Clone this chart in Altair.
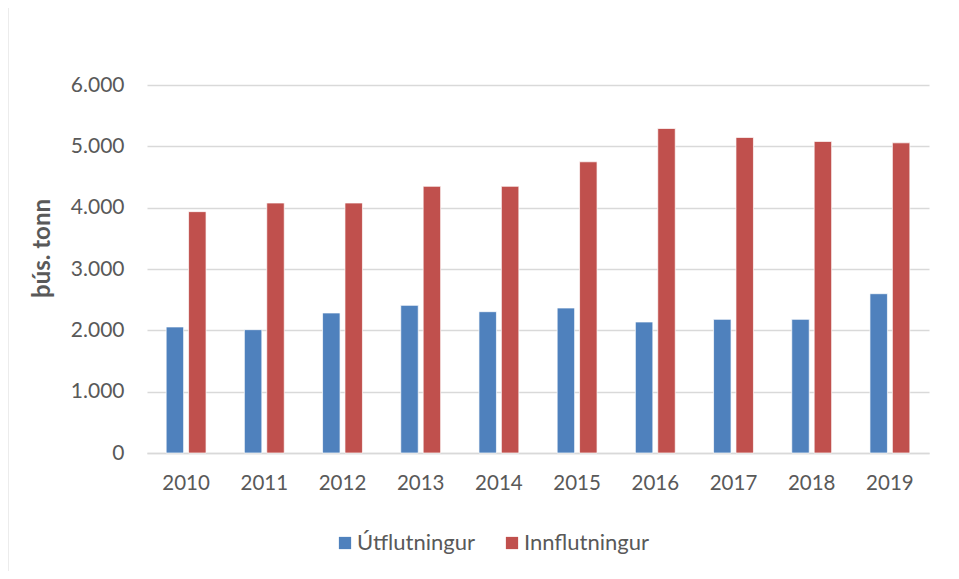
import altair as alt
import pandas as pd

years = ["2010", "2011", "2012", "2013", "2014", "2015", "2016", "2017", "2018", "2019"]
series = ["Útflutningur", "Innflutningur"]
utflutningur = [2055, 2011, 2283, 2407, 2304, 2364, 2136, 2179, 2179, 2597]
innflutningur = [3935, 4076, 4076, 4348, 4348, 4748, 5291, 5145, 5080, 5057]
colors = ["#4F81BD", "#C0504D"]

rows = []
for i, y in enumerate(years):
    rows.append({"ár": y, "flokkur": series[0], "gildi": utflutningur[i]})
    rows.append({"ár": y, "flokkur": series[1], "gildi": innflutningur[i]})
df = pd.DataFrame(rows)

FONT = "Lato"
TXT = "#595959"

bars = (
    alt.Chart(df)
    .mark_bar(stroke="white", strokeWidth=1, strokeOpacity=0.7)
    .encode(
        x=alt.X(
            "ár:N",
            sort=years,
            title=None,
            scale=alt.Scale(paddingInner=0.49, paddingOuter=0.245),
            axis=alt.Axis(
                labelAngle=0,
                labelFontSize=20.5,
                labelColor=TXT,
                labelFont=FONT,
                labelPadding=20,
                ticks=False,
                domainColor="#D9D9D9",
                domainWidth=1.5,
                grid=False,
            ),
        ),
        xOffset=alt.XOffset(
            "flokkur:N", sort=series, scale=alt.Scale(paddingInner=0.22, paddingOuter=0)
        ),
        y=alt.Y(
            "gildi:Q",
            title="þús. tonn",
            scale=alt.Scale(domain=[0, 6000], nice=False),
            axis=alt.Axis(
                values=[0, 1000, 2000, 3000, 4000, 5000, 6000],
                labelExpr="replace(format(datum.value, ',d'), ',', '.')",
                labelFontSize=21,
                labelColor=TXT,
                labelFont=FONT,
                labelPadding=23,
                ticks=False,
                domain=False,
                gridColor="#D9D9D9",
                gridWidth=1.5,
                titleFont=FONT,
                titleFontSize=24,
                titleFontWeight="bold",
                titleColor=TXT,
                titleAngle=-90,
                titleBaseline="middle",
                titleX=-105,
                titleY=163,
            ),
        ),
        color=alt.Color(
            "flokkur:N",
            sort=series,
            scale=alt.Scale(domain=series, range=colors),
            legend=alt.Legend(
                title=None,
                orient="none",
                direction="horizontal",
                legendX=187,
                legendY=447,
                symbolType="square",
                symbolSize=150,
                symbolStrokeWidth=0,
                labelFont=FONT,
                labelFontSize=22,
                labelColor=TXT,
                labelOffset=1,
                columnPadding=26,
            ),
        ),
    )
)

frame = alt.Chart(pd.DataFrame({"k": [0]})).mark_rect(
    fill=None, stroke="#D9D9D9", strokeWidth=2, clip=False
).encode(
    x=alt.value(-139.5), x2=alt.value(782 + 60), y=alt.value(-80.5), y2=alt.value(368 + 160)
)

chart = (
    alt.layer(frame, bars)
    .properties(
        width=782,
        height=368,
        autosize=alt.AutoSizeParams(type="none"),
        padding={"left": 139, "top": 77, "right": 22, "bottom": 118},
        view=alt.ViewBackground(stroke=None, strokeWidth=0),
    )
    .configure_view(stroke=None, strokeWidth=0)
    .configure_axisX(grid=False)
    .configure(background="white")
)

chart.save("out.html", embed_options={"renderer": "svg", "actions": False})
